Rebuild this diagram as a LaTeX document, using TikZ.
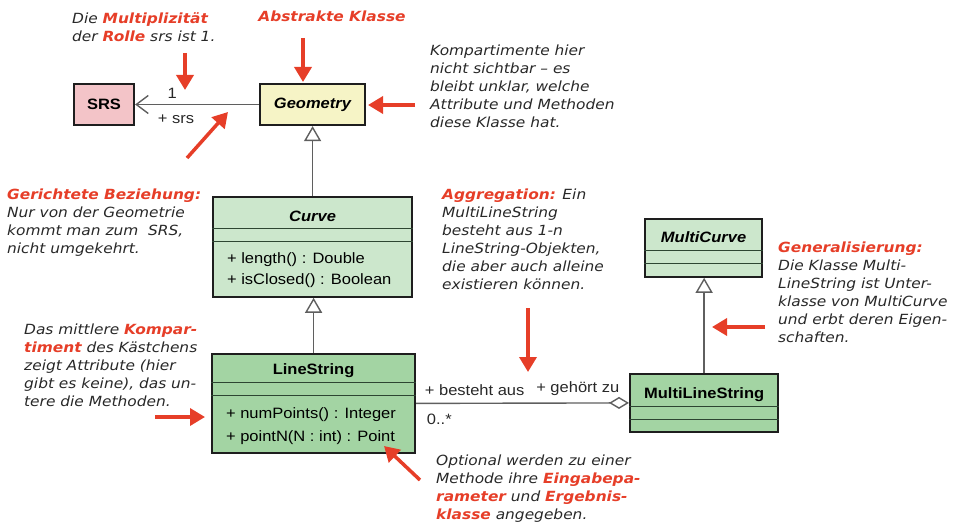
\documentclass[tikz,border=0pt]{standalone}
\usepackage{fontspec}
\setmainfont{DejaVu Sans}[FakeStretch=1.1]
\newfontfamily\umlfont{Liberation Sans}[FakeStretch=1.1]
\usetikzlibrary{arrows.meta,shapes.multipart}

\definecolor{notered}{RGB}{230,62,40}
\definecolor{notetext}{RGB}{40,40,40}
\definecolor{umlborder}{RGB}{30,30,30}
\definecolor{splitgray}{RGB}{45,70,50}
\definecolor{linkgray}{RGB}{95,95,95}
\definecolor{srsfill}{RGB}{243,196,200}
\definecolor{geofill}{RGB}{246,244,198}
\definecolor{paleclass}{RGB}{204,231,204}
\definecolor{darkclass}{RGB}{163,212,163}

\newcommand{\keyword}[1]{{\color{notered}\bfseries #1}}
\renewcommand{\arraystretch}{0}

\tikzset{
  umlclass/.style={rectangle split, rectangle split parts=3, draw=umlborder, line width=2.2pt,
    rectangle split draw splits=false,
    inner xsep=14pt, inner ysep=0pt, anchor=north west,
    font=\umlfont\fontsize{15}{18}\selectfont, rectangle split part align={center,left,left}},
  compartment/.style={draw=splitgray, line width=1.6pt},
  plainclass/.style={draw=umlborder, line width=2.2pt, inner sep=0pt,
    font=\umlfont\fontsize{15}{18}\selectfont\bfseries},
  note/.style={anchor=north west, align=left, inner sep=0pt, text=notetext,
    font=\fontsize{14}{18}\selectfont\itshape},
  link/.style={draw=linkgray, line width=1.4pt},
  gen/.style={link, -{Triangle[length=15pt, width=17pt, fill=white]}},
  aggr/.style={link, -{Diamond[length=20pt, width=12pt, fill=white]}},
  navi/.style={link, -{Straight Barb[length=12pt, width=18pt]}},
  edgelabel/.style={font=\umlfont\fontsize{15}{18}\selectfont, text=notetext, inner sep=2pt},
  notearrow/.style={draw=notered, line width=3.5pt, -{Triangle[length=15pt, width=17pt]}}
}

\begin{document}
\begin{tikzpicture}[x=1pt,y=-1pt]
\useasboundingbox (0,0) rectangle (959,527);

% classes
\node[plainclass, fill=srsfill, minimum width=60pt, minimum height=41pt] (srs) at (104,104.5) {SRS};
\node[plainclass, fill=geofill, minimum width=105pt, minimum height=41pt] (geometry) at (312.5,104.5) {\itshape Geometry};

\node[umlclass, fill=paleclass, minimum width=199pt] (curve) at (212,196)
  {\rule[-6pt]{0pt}{29pt}\textbf{\textit{Curve}}%
   \nodepart{two}\rule{0pt}{11pt}%
   \nodepart{three}\begin{tabular}{@{}l@{}}%
     \rule[-10pt]{0pt}{31pt}+ length() : Double\\
     \rule[-11pt]{0pt}{22pt}+ isClosed() : Boolean%
   \end{tabular}};

\node[umlclass, fill=darkclass, minimum width=203pt] (linestring) at (211,353)
  {\rule[-7pt]{0pt}{26pt}\textbf{LineString}%
   \nodepart{two}\rule{0pt}{11pt}%
   \nodepart{three}\begin{tabular}{@{}l@{}}%
     \rule[-11pt]{0pt}{33pt}+ numPoints() : Integer\\
     \rule[-10pt]{0pt}{22pt}+ pointN(N : int) : Point%
   \end{tabular}};

\node[umlclass, fill=paleclass, minimum width=117pt] (multicurve) at (644,218)
  {\rule[-7pt]{0pt}{29pt}\textbf{\textit{MultiCurve}}%
   \nodepart{two}\rule{0pt}{11pt}%
   \nodepart{three}\rule{0pt}{11pt}};

\node[umlclass, fill=darkclass, minimum width=145pt] (multilinestring) at (629,373)
  {\rule[-7pt]{0pt}{30pt}\textbf{MultiLineString}%
   \nodepart{two}\rule{0pt}{11pt}%
   \nodepart{three}\rule{0pt}{10pt}};

% compartment lines
\foreach \cls in {curve,linestring,multicurve,multilinestring}{
  \draw[compartment] (\cls.one split west) -- (\cls.one split east);
  \draw[compartment] (\cls.two split west) -- (\cls.two split east);
}

% relations
\draw[navi] (geometry.west) -- (srs.east)
  node[edgelabel, pos=0.7, above=3pt] {1}
  node[edgelabel, pos=0.67, below=8pt] {+ srs};
\draw[gen] (curve.north) -- (curve.north |- geometry.south);
\draw[gen] (linestring.north) -- (linestring.north |- curve.south);
\draw[gen] (multilinestring.north) -- (multilinestring.north |- multicurve.south);
\draw[aggr] (linestring.east) -- (multilinestring.west)
  node[edgelabel, at start, anchor=south west, xshift=6pt, yshift=5pt] {+ besteht aus}
  node[edgelabel, at end, anchor=south east, xshift=-7pt, yshift=5pt] {+ gehört zu}
  node[edgelabel, at start, anchor=north west, xshift=8pt, yshift=-8pt] {0..*};

% notes
\node[note] (multnote) at (72,12) {Die \keyword{Multiplizität}\\der \keyword{Rolle} srs ist 1.};
\node[font=\fontsize{14}{18}\selectfont\bfseries\itshape, text=notered] (abstractnote) at (332,16) {Abstrakte Klasse};
\node[note] (compnote) at (430,45) {Kompartimente hier\\nicht sichtbar – es\\bleibt unklar, welche\\Attribute und Methoden\\diese Klasse hat.};
\node[note] (dirnote) at (7,189) {\keyword{Gerichtete Beziehung:}\\Nur von der Geometrie\\kommt man zum\ \ SRS,\\nicht umgekehrt.};
\node[note] (aggrnote) at (442,189) {\keyword{Aggregation:} Ein\\MultiLineString\\besteht aus 1-n\\LineString-Objekten,\\die aber auch alleine\\existieren können.};
\node[note] (gennote) at (778,242) {\keyword{Generalisierung:}\\Die Klasse Multi-\\LineString ist Unter-\\klasse von MultiCurve\\und erbt deren Eigen-\\schaften.};
\node[note] (partnote) at (24,324) {Das mittlere \keyword{Kompar-}\\\keyword{timent} des Kästchens\\zeigt Attribute (hier\\gibt es keine), das un-\\tere die Methoden.};
\node[note] (paramnote) at (436,455) {Optional werden zu einer\\Methode ihre \keyword{Eingabepa-}\\\keyword{rameter} und \keyword{Ergebnis-}\\\keyword{klasse} angegeben.};

% pointers of the notes
\coordinate (multfrom) at (185,53);   \coordinate (multto) at (185,90);
\coordinate (abstfrom) at (303,38);   \coordinate (absto) at (303,82);
\coordinate (compfrom) at (415,105);  \coordinate (compto) at (368,105);
\coordinate (dirfrom) at (187,158);   \coordinate (dirto) at (228,112);
\coordinate (aggrfrom) at (528,308);  \coordinate (aggrto) at (528,372);
\coordinate (genfrom) at (765,327);   \coordinate (gento) at (712,327);
\coordinate (partfrom) at (155,417);  \coordinate (partto) at (205,417);
\coordinate (paramfrom) at (420,480); \coordinate (paramto) at (384,446);

\draw[notearrow] (multfrom) -- (multto);
\draw[notearrow] (abstfrom) -- (absto);
\draw[notearrow] (compfrom) -- (compto);
\draw[notearrow] (dirfrom) -- (dirto);
\draw[notearrow] (aggrfrom) -- (aggrto);
\draw[notearrow] (genfrom) -- (gento);
\draw[notearrow] (partfrom) -- (partto);
\draw[notearrow] (paramfrom) -- (paramto);

\end{tikzpicture}
\end{document}
